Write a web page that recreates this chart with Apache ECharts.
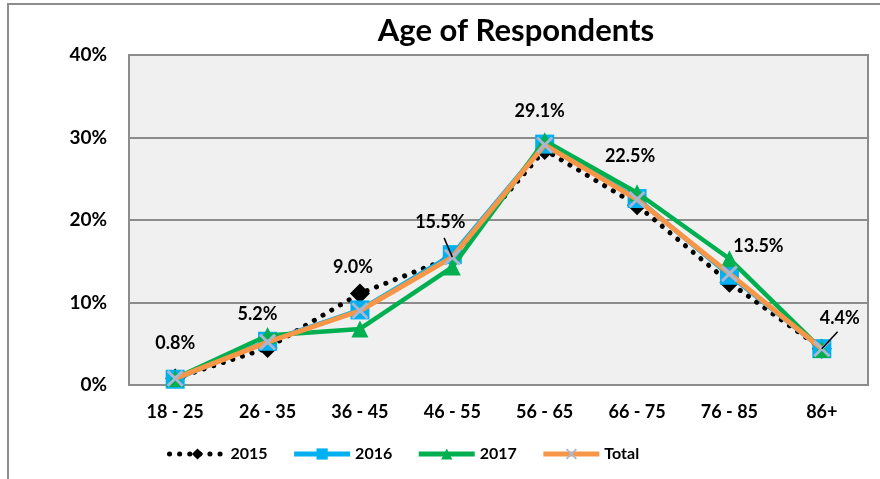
<!DOCTYPE html>
<html><head><meta charset="utf-8">
<script src="https://cdn.jsdelivr.net/npm/echarts@6/dist/echarts.min.js"></script>
<style>html,body{margin:0;padding:0;background:#fff}#c{width:880px;height:479px}</style>
</head><body><div id="c"></div>
<script>
const categories = ['18 - 25','26 - 35','36 - 45','46 - 55','56 - 65','66 - 75','76 - 85','86+'];
const s2015 = [0.8, 4.5, 11.1, 15.5, 28.5, 21.8, 12.4, 4.4];
const s2016 = [0.7, 5.3, 9.1, 15.8, 29.2, 22.6, 13.3, 4.4];
const s2017 = [0.8, 6.0, 6.8, 14.3, 29.6, 23.3, 15.3, 4.3];
const sTotal = [0.8, 5.2, 9.0, 15.5, 29.1, 22.5, 13.5, 4.4];
const yTicks = [0, 10, 20, 30, 40];

const labelOffsets = [[0,-35],[-10,-28],[-7,-44],[-12,-35],[-5,-34],[-7,-43],[29,-27],[18,-31]];
const leader = [false,false,false,true,false,false,false,true];

const FONT = 'Lato';
const chart = echarts.init(document.getElementById('c'));
const xMark = 'path://M0,1.2L1.2,0L5,3.8L8.8,0L10,1.2L6.2,5L10,8.8L8.8,10L5,6.2L1.2,10L0,8.8L3.8,5Z';
const frame = {
  type: 'polyline', shape: {points: [[8, 479], [8, 4], [880, 4]]},
  style: {stroke: '#8c8c8c', lineWidth: 2, fill: null}, silent: true
};

chart.setOption({
  animation: false,
  backgroundColor: '#ffffff',
  title: {
    text: 'Age of Respondents', left: 511, top: 10, textAlign: 'center',
    textStyle: {fontFamily: FONT, fontWeight: 'bold', fontSize: 31, color: '#000'}
  },
  graphic: [frame],
  grid: {left: 129, right: 12, top: 55, bottom: 94, show: true,
    backgroundColor: '#f0f0f0', borderColor: '#8c8c8c', borderWidth: 2},
  legend: {
    bottom: 12, left: 162, itemWidth: 56, itemHeight: 14, itemGap: 24,
    lineStyle: {width: 5},
    textStyle: {fontFamily: FONT, fontWeight: 'bold', fontSize: 16, color: '#000'},
    data: ['2015','2016','2017','Total']
  },
  xAxis: {
    type: 'category', data: categories, boundaryGap: true,
    axisLine: {lineStyle: {color: '#8c8c8c', width: 2}},
    axisTick: {show: false},
    axisLabel: {fontFamily: FONT, fontWeight: 'bold', fontSize: 18, color: '#000', margin: 18}
  },
  yAxis: {
    type: 'value', min: yTicks[0], max: yTicks[yTicks.length-1], interval: 10,
    axisLine: {show: false}, axisTick: {show: false},
    splitLine: {lineStyle: {color: '#8c8c8c', width: 2}},
    axisLabel: {fontFamily: FONT, fontWeight: 'bold', fontSize: 19, color: '#000', margin: 22,
      formatter: '{value}%'}
  },
  series: [
    {name: '2015', type: 'line', data: s2015, z: 2,
      symbol: 'diamond', symbolSize: 20,
      itemStyle: {color: '#000'},
      lineStyle: {color: '#000', width: 5, type: [0.1, 10], cap: 'round'}},
    {name: '2016', type: 'line', data: s2016, z: 3,
      symbol: 'rect', symbolSize: 19,
      itemStyle: {color: '#00B0F0'},
      lineStyle: {color: '#00B0F0', width: 4.5}},
    {name: '2017', type: 'line', data: s2017, z: 4,
      symbol: 'triangle', symbolSize: 17,
      itemStyle: {color: '#00B050'},
      lineStyle: {color: '#00B050', width: 4.5}},
    {name: 'Total', type: 'line', z: 5,
      symbol: xMark, symbolSize: 17,
      itemStyle: {color: '#A9B7D2'},
      lineStyle: {color: '#F79646', width: 5},
      label: {show: true, position: 'inside', fontFamily: FONT, fontWeight: 'bold', fontSize: 18, color: '#000',
        formatter: p => p.value.toFixed(1) + '%'},
      data: sTotal.map((v, i) => ({
        value: v,
        label: {offset: labelOffsets[i]}
      }))}
  ]
});

// leader lines for selected labels, placed through the chart's own coordinate conversion
const extra = [];
sTotal.forEach((v, i) => {
  if (!leader[i]) return;
  const p = chart.convertToPixel({xAxisIndex: 0, yAxisIndex: 0}, [i, v]);
  const o = labelOffsets[i];
  const ex = p[0] + o[0] * (i === 3 ? 0.35 : 0.1);
  const ey = p[1] + o[1] * 0.55;
  extra.push({type: 'line', shape: {x1: ex + (i===3? -4: 14), y1: ey, x2: p[0], y2: p[1]}, z: 100,
    style: {stroke: '#000', lineWidth: 1.5}, silent: true});
});
chart.setOption({graphic: [frame].concat(extra)});
</script></body></html>
